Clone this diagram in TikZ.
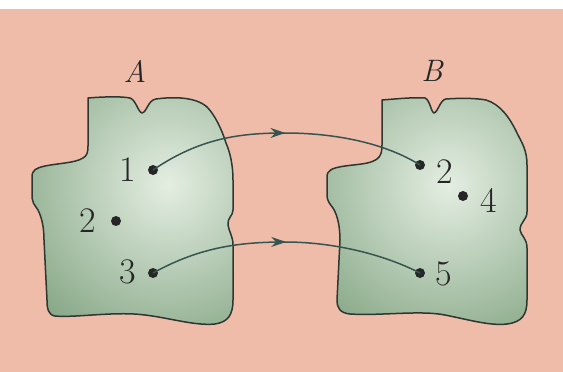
\documentclass[tikz,border=0pt]{standalone}
\usetikzlibrary{arrows.meta,decorations.markings}
\definecolor{bgpink}{RGB}{240,188,170}
\definecolor{glight}{RGB}{228,238,226}
\definecolor{gdark}{RGB}{96,138,96}
\definecolor{outl}{RGB}{45,55,50}
\definecolor{connc}{RGB}{55,85,80}
\newcommand\pathA{(88,98) .. controls (100,97) and (120,96) .. (130,98) .. controls (136,100) and (138,112) .. (142,113) .. controls (147,112) and (148,100) .. (156,99) .. controls (170,97) and (195,96) .. (207,107) .. controls (215,115) and (222,130) .. (226,143) .. controls (230,152) and (233,165) .. (233,180) -- (233,210) .. controls (233,216) and (227,218) .. (228,225) .. controls (229,232) and (233,236) .. (233,245) -- (233,300) .. controls (233,315) and (228,322) .. (215,324) .. controls (195,326) and (170,318) .. (145,315) .. controls (115,311) and (75,318) .. (55,316) .. controls (48,315) and (47,308) .. (47,300) -- (44,240) .. controls (44,228) and (42,218) .. (38,210) .. controls (34,204) and (32,202) .. (32,198) -- (32,177) .. controls (32,170) and (36,168) .. (45,166) .. controls (60,163) and (75,163) .. (83,158) .. controls (87,156) and (88,152) .. (88,146) -- cycle}
\newcommand\pathB{(382,100) .. controls (395,99) and (415,97) .. (425,98) .. controls (430,100) and (431,112) .. (434,113) .. controls (438,112) and (440,100) .. (446,99) .. controls (460,98) and (475,98) .. (486,100) .. controls (500,104) and (510,118) .. (517,133) .. controls (522,143) and (527,150) .. (527,165) -- (527,212) .. controls (527,220) and (520,222) .. (520,230) .. controls (521,236) and (527,238) .. (527,248) -- (527,300) .. controls (527,315) and (522,322) .. (507,324) .. controls (490,326) and (470,320) .. (445,315) .. controls (420,310) and (380,316) .. (350,314) .. controls (340,313) and (337,308) .. (337,300) -- (340,240) .. controls (340,228) and (338,216) .. (333,208) .. controls (329,203) and (327,200) .. (327,195) -- (327,177) .. controls (327,170) and (332,168) .. (345,166) .. controls (360,164) and (370,164) .. (377,159) .. controls (381,156) and (382,152) .. (382,145) -- cycle}
\tikzset{
  outline/.style={draw=outl,line width=1.5pt,line join=round},
  dot/.style={circle,fill=black!85,inner sep=0pt,minimum size=10pt},
  num/.style={inner sep=0pt,font=\fontsize{36}{40}\selectfont,text=black!85},
  setname/.style={inner sep=0pt,font=\fontsize{31}{34}\selectfont\itshape,text=black!85},
  conn/.style={draw=connc,line width=1.5pt,postaction={decorate},
    decoration={markings,mark=at position 0.5 with {\arrow{Stealth[length=15pt,width=10pt]}}}},
}
\begin{document}
\begin{tikzpicture}[x=1pt,y=-1pt]
\useasboundingbox (0,0) rectangle (563,372);
\fill[bgpink] (0,0) rectangle (563,372);
\fill[white] (0,0) rectangle (563,9);
% set A
\begin{scope}
\clip \pathA;
\shade[inner color=glight,outer color=gdark] (168,185) circle (250);
\end{scope}
\draw[outline] \pathA;
% set B
\begin{scope}
\clip \pathB;
\shade[inner color=glight,outer color=gdark] (448,185) circle (250);
\end{scope}
\draw[outline] \pathB;
% labels
\node[setname] (lA) at (135,71) {A};
\node[setname] (lB) at (432,71) {B};
% points
\node[dot] (a1) at (153,170) {};
\node[dot] (a2) at (116,221) {};
\node[dot] (a3) at (153,273) {};
\node[dot] (b2) at (420,165) {};
\node[dot] (b4) at (463,196) {};
\node[dot] (b5) at (420,273) {};
\node[num] (na1) at (128,170) {1};
\node[num] (na2) at (88,221) {2};
\node[num] (na3) at (128,272) {3};
\node[num] (nb2) at (445,172) {2};
\node[num] (nb4) at (489,200) {4};
\node[num] (nb5) at (444,274) {5};
% connectors
\draw[conn] (a1.center) .. controls (200,138) and (240,133) .. (285,133) .. controls (335,133) and (385,143) .. (b2.center);
\draw[conn] (a3.center) .. controls (200,247) and (240,242) .. (285,242) .. controls (335,242) and (385,255) .. (b5.center);
\end{tikzpicture}
\end{document}
